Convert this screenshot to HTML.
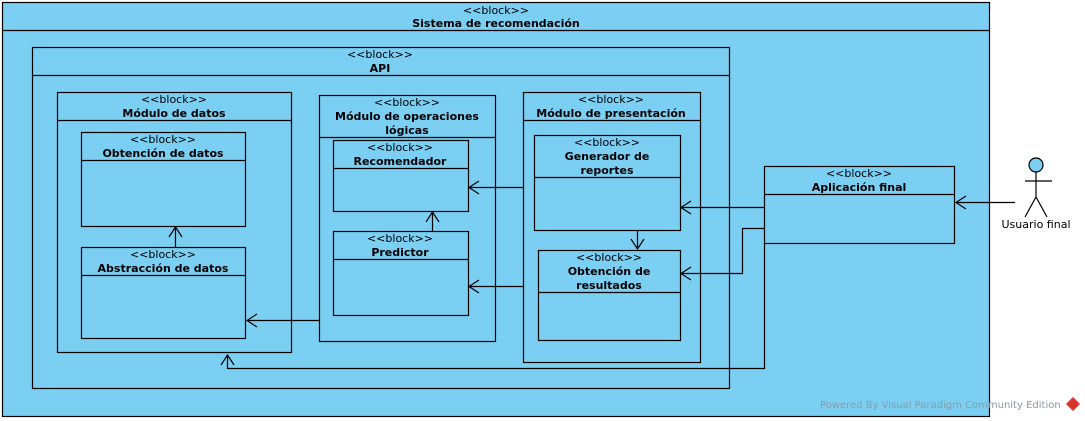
<!DOCTYPE html>
<html><head><meta charset="utf-8"><style>
html,body{margin:0;padding:0;background:#fff;width:1085px;height:421px;overflow:hidden}
svg text{font-family:"DejaVu Sans","Liberation Sans",sans-serif;font-size:11px;fill:#000}
.b{font-weight:bold}
</style></head><body>
<svg width="1085" height="421" xmlns="http://www.w3.org/2000/svg">
<g fill="#7acff3" stroke="#000" stroke-width="1.2">
<rect x="2.5" y="2.5" width="987" height="414"/>
<line x1="2.5" y1="30.5" x2="989.5" y2="30.5"/>
<rect x="32.5" y="47.5" width="697" height="341"/>
<line x1="32.5" y1="75.5" x2="729.5" y2="75.5"/>
<rect x="57.5" y="92.5" width="234" height="260"/>
<line x1="57.5" y1="120.5" x2="291.5" y2="120.5"/>
<rect x="81.5" y="132.5" width="164" height="94"/>
<line x1="81.5" y1="160.5" x2="245.5" y2="160.5"/>
<rect x="81.5" y="247.5" width="164" height="91"/>
<line x1="81.5" y1="275.5" x2="245.5" y2="275.5"/>
<rect x="319.5" y="95.5" width="176" height="246"/>
<line x1="319.5" y1="137.5" x2="495.5" y2="137.5"/>
<rect x="333.5" y="140.5" width="135" height="71"/>
<line x1="333.5" y1="168.5" x2="468.5" y2="168.5"/>
<rect x="333.5" y="231.5" width="135" height="84"/>
<line x1="333.5" y1="259.5" x2="468.5" y2="259.5"/>
<rect x="523.5" y="92.5" width="177" height="270"/>
<line x1="523.5" y1="120.5" x2="700.5" y2="120.5"/>
<rect x="534.5" y="135.5" width="146" height="95"/>
<line x1="534.5" y1="177.5" x2="680.5" y2="177.5"/>
<rect x="538.5" y="250.5" width="142" height="90"/>
<line x1="538.5" y1="292.5" x2="680.5" y2="292.5"/>
<rect x="764.5" y="166.5" width="190" height="77"/>
<line x1="764.5" y1="194.5" x2="954.5" y2="194.5"/>
<circle cx="1036" cy="165" r="7"/>
</g>
<g fill="none" stroke="#000" stroke-width="1.2">
<path d="M1036 172V197M1025 181H1052M1036 197L1025 217M1036 197L1047 217"/>
<path d="M1015 202.5H956M966 196L956 202.5L966 209"/>
<path d="M764 207.5H681M691 201L681 207.5L691 214"/>
<path d="M764 228.5H742.5V273.5H681M691 267L681 273.5L691 280"/>
<path d="M637.5 231V249M631 239L637.5 249L644 239"/>
<path d="M523 187.5H469M479 181L469 187.5L479 194"/>
<path d="M523 286.5H469M479 280L469 286.5L479 293"/>
<path d="M432.5 231V212M426 222L432.5 212L439 222"/>
<path d="M319 320.5H247M257 314L247 320.5L257 327"/>
<path d="M175.5 247V227M169 237L175.5 227L182 237"/>
<path d="M764.5 243V368.5H227.5V355M221 365L227.5 355L234 365"/>
</g>
<g text-anchor="middle">
<text x="496" y="14">&lt;&lt;block&gt;&gt;</text><text x="496" y="27" class="b">Sistema de recomendación</text>
<text x="380" y="58">&lt;&lt;block&gt;&gt;</text><text x="380" y="72" class="b">API</text>
<text x="174" y="103">&lt;&lt;block&gt;&gt;</text><text x="174" y="117" class="b">Módulo de datos</text>
<text x="163" y="143">&lt;&lt;block&gt;&gt;</text><text x="163" y="157" class="b">Obtención de datos</text>
<text x="163" y="258">&lt;&lt;block&gt;&gt;</text><text x="163" y="272" class="b">Abstracción de datos</text>
<text x="407" y="106">&lt;&lt;block&gt;&gt;</text><text x="407" y="120" class="b">Módulo de operaciones</text><text x="407" y="134" class="b">lógicas</text>
<text x="400" y="151">&lt;&lt;block&gt;&gt;</text><text x="400" y="165" class="b">Recomendador</text>
<text x="400" y="242">&lt;&lt;block&gt;&gt;</text><text x="400" y="256" class="b">Predictor</text>
<text x="611" y="103">&lt;&lt;block&gt;&gt;</text><text x="611" y="117" class="b">Módulo de presentación</text>
<text x="607" y="146">&lt;&lt;block&gt;&gt;</text><text x="607" y="160" class="b">Generador de</text><text x="607" y="174" class="b">reportes</text>
<text x="609" y="261">&lt;&lt;block&gt;&gt;</text><text x="609" y="275" class="b">Obtención de</text><text x="609" y="289" class="b">resultados</text>
<text x="859" y="177">&lt;&lt;block&gt;&gt;</text><text x="859" y="191" class="b">Aplicación final</text>
<text x="1036" y="228">Usuario final</text>
</g>
<text x="820" y="408" style="font-size:10px;fill:#8a9aa6">Powered By Visual Paradigm Community Edition</text>
<path d="M1073 397L1080 404L1073 411L1066 404Z" fill="#d9342b"/>
</svg>
</body></html>
